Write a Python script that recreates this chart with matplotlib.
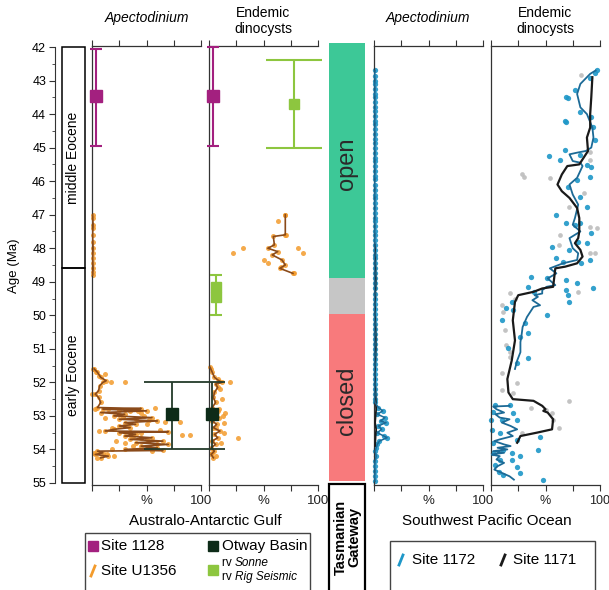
import matplotlib
matplotlib.use("Agg")
import matplotlib.pyplot as plt
from matplotlib.patches import Rectangle
from matplotlib.lines import Line2D

plt.rcParams['font.family'] = ['Liberation Sans', 'DejaVu Sans']

nan = float('nan')

# ---- Australo-Antarctic Gulf, Apectodinium (%), Site U1356 ----
aag_ap_line_age = [47.0, 47.3, 47.6, 48.0, 48.3, 48.6, 48.8, nan,
                   51.6, 51.7, 51.85, 51.95, 52.0, 52.1, 52.25, 52.35, 52.45, 52.6, 52.75,
                   52.78, 52.8, 52.85, 52.9, 52.95, 53.0, 53.05, 53.1, 53.15, 53.2, 53.25,
                   53.3, 53.35, 53.4, 53.45, 53.47, 53.5, 53.55, 53.6, 53.65, 53.7, 53.75,
                   53.8, 53.85, 53.9, 53.95, 54.0, 54.03, 54.05, 54.1, 54.15, 54.2, 54.25]
aag_ap_line_pct = [0.5, 1, 0.5, 1, 0.5, 1, 0.5, nan,
                   2, 5, 8, 13, 10, 7, 6, 3, 6, 8, 5,
                   45, 10, 50, 8, 30, 20, 55, 25, 60, 30, 40,
                   25, 35, 20, 12, 70, 25, 40, 30, 55, 35, 65,
                   40, 70, 45, 60, 30, 65, 5, 10, 3, 15, 8]
aag_ap_dot_age = [47.1, 47.4, 47.8, 48.15, 48.45, 48.7,
                  51.6, 51.7, 51.75, 51.8, 51.98, 52.35, 52.0, 52.75, 52.8, 52.82, 52.85,
                  52.9, 53.0, 53.05, 53.1, 53.17, 53.17, 53.25, 53.3, 53.35, 53.45, 53.5,
                  53.57, 53.57, 53.6, 53.7, 53.75, 53.8, 53.85, 54.0, 54.1, 54.15, 54.2, 54.25,
                  52.78, 52.86, 53.02, 53.12, 53.42, 53.66, 53.9, 54.05]
aag_ap_dot_pct = [1, 0.5, 1, 0.5, 1, 0.5,
                  1, 4, 12, 6, 30, 0, 17, 58, 3, 25, 35,
                  45, 48, 12, 40, 67, 81, 50, 33, 18, 6, 45,
                  83, 90, 38, 50, 22, 30, 60, 18, 2, 14, 20, 5,
                  15, 42, 28, 52, 62, 45, 38, 55]

# ---- Australo-Antarctic Gulf, endemic dinocysts (%), Site U1356 ----
aag_en_line_age = [47.0, 47.6, 47.65, 47.9, 48.0, 48.1, 48.2, 48.35, 48.5, 48.6, 48.75, nan,
                   51.55, 51.7, 51.85, 51.95, 52.0, 52.05, 52.15, 52.3, 52.45, 52.6, 52.75,
                   52.85, 52.95, 53.05, 53.15, 53.25, 53.35, 53.45, 53.55, 53.65, 53.75,
                   53.85, 53.95, 54.05, 54.15, 54.25]
aag_en_line_pct = [70, 70, 59, 60, 54, 63, 58, 67, 70, 65, 77, nan,
                   1, 3, 5, 9, 12, 6, 8, 5, 4, 6, 3,
                   8, 4, 9, 3, 7, 4, 10, 5, 8, 3,
                   6, 2, 5, 2, 4]
aag_en_dot_age = [47.0, 47.2, 47.6, 48.15, 48.0, 48.35, 48.45, 48.0, 48.15, 48.55, 48.75,
                  52.0, 52.9, 53.65, 52.5, 53.2, 53.5, 53.8, 54.2, 52.2, 53.0, 51.6, 51.9,
                  52.8, 53.35, 54.1]
aag_en_dot_pct = [70, 63, 71, 22, 31, 50, 54, 82, 86, 66, 78,
                  19, 15, 27, 12, 14, 14, 11, 6, 10, 13, 2, 8,
                  9, 6, 3]

# ---- single-age estimates with age ranges ----
s1128_ap = dict(pct=4, age=43.45, lo=42.05, hi=44.95)
s1128_en = dict(pct=3.5, age=43.45, lo=42.0, hi=44.95)
otway_ap = dict(pct=73, age=52.95, lo=52.0, hi=54.0)
otway_en = dict(pct=3, age=52.95, lo=52.0, hi=54.0)
sonne_en_a = dict(pct=78, age=43.7, lo=42.4, hi=45.0)
sonne_en_b_age = [49.15, 49.45]
sonne_en_b_pct = [6, 6]
sonne_en_b_range = (48.8, 50.0)

# ---- Southwest Pacific, Apectodinium (%), Site 1172 ----
sw_ap_1172_age = [42.7, 42.85, 43.0, 43.1, 43.25, 43.4, 43.5, 43.65, 43.8, 43.9, 44.05, 44.2,
                  44.3, 44.45, 44.6, 44.75, 44.85, 45.0, 45.15, 45.3, 45.4, 45.55, 45.7, 45.85,
                  45.95, 46.1, 46.25, 46.4, 46.5, 46.65, 46.8, 46.95, 47.1, 47.2, 47.35, 47.5,
                  47.6, 47.75, 47.9, 48.05, 48.2, 48.3, 48.45, 48.6, 48.75, 48.9, 49.05, 49.2,
                  49.35, 49.5, 49.65, 49.8, 49.95, 50.1, 50.25, 50.4, 50.55, 50.7, 50.85, 51.0,
                  51.15, 51.3, 51.45, 51.6, 51.75, 51.9, 52.05, 52.2, 52.35, 52.5, 52.6,
                  52.75, 52.85, 52.95, 53.05, 53.15, 53.2, 53.3, 53.4, 53.5, 53.6, 53.65, 53.75,
                  53.85, 53.95, 54.05, 54.2, 54.35, 54.5, 54.65, 54.8, 54.95]
sw_ap_1172_pct = [1, 0.5, 1, 0.5, 1, 0.5, 1, 0.5, 1, 0.5, 1, 0.5,
                  1, 0.5, 1, 0.5, 1, 0.5, 1, 0.5, 1, 0.5, 1, 0.5,
                  1, 0.5, 1, 0.5, 1, 0.5, 1, 0.5, 1, 0.5, 1, 0.5,
                  1, 0.5, 1, 0.5, 1, 0.5, 1, 0.5, 1, 0.5, 1, 0.5,
                  1, 0.5, 1, 0.5, 1, 0.5, 1, 0.5, 1, 0.5, 1, 0.5,
                  1, 0.5, 1, 0.5, 1, 0.5, 1, 0.5, 1, 0.5, 1,
                  4, 8, 3, 10, 6, 11, 4, 7, 3, 9, 12, 5,
                  3, 2, 1, 2, 1, 0.5, 1, 0.5, 1]
sw_ap_1171_age = [47.9, 48.5, 49.0, 49.6, 50.0, 50.6, 51.0, 51.6, 52.0, 52.5, 52.8, 53.0,
                  53.2, 53.4, 53.6, 53.9]
sw_ap_1171_pct = [1, 1.2, 1.5, 1, 1, 1.5, 1.5, 1, 1, 1.5, 2, 1.5, 1, 2, 1.5, 1]

# ---- Southwest Pacific, endemic dinocysts (%) ----
sw_en_1171_line_age = [42.9, 43.5, 44.0, 44.4, 44.7, 45.1, 45.5, 45.55, 45.8, 46.1, 46.3, 46.5,
                       46.8, 47.1, 47.5, 47.7, 47.85, 48.05, 48.25, 48.45, 48.55, 48.6, 49.15,
                       49.2, 49.3, 49.4, 49.6, 50.15, 50.75, 51.35, 51.9, 52.3, 52.5, 52.55,
                       52.7, 52.8, 52.85, 52.9, 53.1, 53.4, 53.5, 53.6, 53.8]
sw_en_1171_line_pct = [93, 92, 91, 91, 88, 89, 81, 70, 65, 61, 65, 72,
                       79, 81, 81, 80, 77, 82, 84, 79, 68, 59, 57,
                       47, 39, 25, 22, 20, 22, 19, 15, 16, 20, 39,
                       47, 50, 48, 52, 57, 56, 42, 27, 24]
sw_en_1172_line_age = [42.7, 42.8, 43.1, 43.4, 43.8, 44.0, 44.4, 44.7, 45.0, 45.1, 45.15, 45.2,
                       45.4, 45.45, 45.55, 45.9, 46.1, 46.4, 46.7, 47.1, 47.3, 47.5, 47.7,
                       48.0, 48.15, 48.35, 48.45, 48.6, 48.75, 48.9, 49.1, 49.15, 49.25, 49.35,
                       49.4, 49.45, 49.55, 49.7, 49.75, 50.05, 50.35, 50.6, 50.8, 51.1, 51.35,
                       51.6, nan,
                       52.7, 52.72, 52.8, 52.9, 52.95, 53.05, 53.1, 53.2, 53.3, 53.4, 53.5,
                       53.6, 53.7, 53.75, 53.85, 53.9, 53.95, 54.0, 54.05, 54.1, 54.15, 54.2,
                       54.3, 54.4, 54.5, 54.6, 54.7, 54.8, 54.9]
sw_en_1172_line_pct = [96, 91, 82, 79, 82, 88, 93, 94, 92, 87, 79, 72,
                       75, 82, 84, 79, 72, 75, 80, 77, 75, 82, 72,
                       75, 80, 79, 66, 54, 60, 52, 59, 51, 47, 47,
                       40, 43, 38, 45, 39, 33, 29, 28, 27, 27, 24,
                       22, nan,
                       17, 2, 5, 12, 4, 8, 17, 10, 18, 24, 15,
                       20, 8, 3, 12, 18, 6, 15, 2, 12, 0, 8,
                       5, 12, 6, 3, 10, 17, 21]
sw_en_1172_dot_age = [42.69, 42.78, 42.93, 43.28, 43.53, 43.93, 44.08, 44.38, 44.77, 44.23,
                      45.25, 45.37, 45.07, 45.22, 45.52, 45.57, 45.87, 45.97, 46.17, 46.46,
                      46.76, 47.01, 47.26, 47.31, 43.5, 44.2,
                      47.26, 47.56, 47.85, 47.80, 47.95, 48.05, 48.30, 48.40, 48.45, 48.35,
                      48.85, 48.90, 48.95, 49.05, 49.19, 49.15, 49.30, 49.25, 49.39, 49.59,
                      49.59, 50.14, 49.79, 49.84, 49.99, 50.24, 50.54, 50.64, 50.98, 51.28,
                      51.43, 52.67, 52.67, 52.87, 52.92, 53.12, 53.12, 53.12, 53.42, 53.52,
                      53.62, 53.82, 53.72, 54.02, 54.11, 54.11, 54.21, 54.31, 54.46, 54.02,
                      54.51, 54.66, 54.76, 54.91, 54.71, 54.31]
sw_en_1172_dot_pct = [97, 95, 91, 77, 71, 82, 92, 94, 95, 69,
                      53, 63, 68, 82, 88, 92, 91, 79, 71, 82,
                      88, 60, 69, 77, 69, 68,
                      82, 92, 88, 80, 56, 72, 60, 66, 83, 91,
                      37, 51, 69, 79, 94, 34, 39, 69, 71, 19,
                      72, 10, 14, 20, 51, 31, 34, 27, 16, 34,
                      24, 4, 17, 2, 20, 0, 10, 24, 1, 8,
                      45, 2, 24, 11, 2, 19, 27, 8, 4, 43,
                      24, 7, 11, 48, 27, 19]
sw_en_1171_dot_age = [42.83, 45.87, 45.92, 45.12, 45.37, 46.76, 47.41, 46.36, 45.8,
                      47.36, 48.15, 48.13, 47.9, 49.3, 49.69, 49.34, 50.44, 51.08, 51.73,
                      52.23, 52.33, 52.03, 52.57, 52.77, 53.12, 53.37, 52.92, 53.52, 51.23,
                      49.89, 47.6, 52.82, 49.5, 50.9]
sw_en_1171_dot_pct = [83, 30, 54, 91, 91, 72, 97, 85, 28,
                      91, 95, 91, 62, 80, 10, 17, 13, 17, 10,
                      10, 20, 24, 72, 37, 57, 62, 56, 28, 17,
                      11, 63, 50, 22, 14]

# ---- stratigraphy and gateway ----
epochs = ['middle Eocene', 'early Eocene']
epoch_bounds = [(42.0, 48.6), (48.6, 55.0)]
gateway_states = ['open', '', 'closed']
gateway_bounds = [(41.88, 48.9), (48.9, 49.95), (49.95, 54.95)]
gateway_colors = ['#3DC897', '#C6C6C6', '#F87A7C']

age_ticks = list(range(42, 56))
pct_ticks = [0, 25, 50, 75, 100]
pct_labels = ['', '', '%', '', '100']

# colours
C_PURPLE = '#A3207F'
C_OTWAY = '#0D2B18'
C_LGREEN = '#8DC63F'
C_ORANGE = '#F39B2C'
C_BROWN = '#8A4A1A'
C_BLUE = '#1E97C8'
C_BLUELINE = '#1C6A96'
C_GREY = '#BDBDBD'
C_BLACK = '#1A1A1A'
C_AX = '#333333'

W, H = 609, 590
fig = plt.figure(figsize=(W / 100, H / 100), dpi=100)


def fx(px):
    return px / W


def fy(py):
    return 1 - py / H


TOP, BOT = 46, 485
YLIM = (55.06, 41.97)


def make_panel(left, width):
    ax = fig.add_axes([fx(left), fy(BOT), width / W, (BOT - TOP) / H])
    ax.set_xlim(0, 100)
    ax.set_ylim(*YLIM)
    ax.patch.set_alpha(0)
    ax.spines['right'].set_visible(False)
    for s in ['left', 'top', 'bottom']:
        ax.spines[s].set_color(C_AX)
        ax.spines[s].set_linewidth(0.9)
    ax.set_yticks([])
    ax.set_xticks(pct_ticks)
    ax.set_xticklabels(pct_labels, fontsize=9.5, color='#222222')
    ax.tick_params(axis='x', top=True, bottom=True, direction='out', length=4,
                   width=0.8, color=C_AX, pad=3)
    return ax


# age axis with epoch boxes
ax_age = fig.add_axes([fx(54.5), fy(BOT), fx(35), (BOT - TOP) / H])
ax_age.set_ylim(*YLIM)
ax_age.set_xlim(0, 1)
for s in ['right', 'top', 'bottom']:
    ax_age.spines[s].set_visible(False)
ax_age.spines['left'].set_bounds(42, 55)
ax_age.spines['left'].set_color(C_AX)
ax_age.set_xticks([])
ax_age.set_yticks(age_ticks)
ax_age.set_yticks([a + 0.5 for a in age_ticks[:-1]], minor=True)
ax_age.tick_params(axis='y', which='major', length=4, labelsize=9, pad=2, color=C_AX)
ax_age.tick_params(axis='y', which='minor', length=2.5, color=C_AX)
ax_age.set_ylabel('Age (Ma)', fontsize=9.5, labelpad=9)
ax_age.patch.set_alpha(0)
for name, (a0, a1) in zip(epochs, epoch_bounds):
    ax_age.add_patch(Rectangle((0.2, a0), 0.68, a1 - a0, fill=False, ec='black', lw=1.1))
    ax_age.text(0.54, (a0 + a1) / 2, name, rotation=90, ha='center', va='center', fontsize=10)

# panel 1: AAG Apectodinium
ax1 = make_panel(92, 109)
ax1.plot(aag_ap_line_pct, aag_ap_line_age, color=C_BROWN, lw=1.2, zorder=3)
ax1.plot(aag_ap_line_pct + aag_ap_dot_pct, aag_ap_line_age + aag_ap_dot_age, 'o', ms=3.6,
         color=C_ORANGE, mec='none', alpha=0.85, zorder=2, clip_on=False)
ax1.errorbar(s1128_ap['pct'], s1128_ap['age'],
             yerr=[[s1128_ap['age'] - s1128_ap['lo']], [s1128_ap['hi'] - s1128_ap['age']]],
             fmt='s', ms=8, color=C_PURPLE, ecolor=C_PURPLE, elinewidth=1.5, capsize=4.5,
             capthick=1.5, clip_on=False, zorder=4)
ax1.errorbar(otway_ap['pct'], otway_ap['age'],
             yerr=[[otway_ap['age'] - otway_ap['lo']], [otway_ap['hi'] - otway_ap['age']]],
             fmt='s', ms=8, color=C_OTWAY, ecolor='#233a2a', elinewidth=1.3, capsize=20,
             capthick=1.3, clip_on=False, zorder=5)

# panel 2: AAG endemic dinocysts
ax2 = make_panel(209, 109)
ax2.plot(aag_en_line_pct, aag_en_line_age, color=C_BROWN, lw=1.2, zorder=3)
ax2.plot(aag_en_line_pct + aag_en_dot_pct, aag_en_line_age + aag_en_dot_age, 'o', ms=3.6,
         color=C_ORANGE, mec='none', alpha=0.85, zorder=2, clip_on=False)
ax2.errorbar(s1128_en['pct'], s1128_en['age'],
             yerr=[[s1128_en['age'] - s1128_en['lo']], [s1128_en['hi'] - s1128_en['age']]],
             fmt='s', ms=8, color=C_PURPLE, ecolor=C_PURPLE, elinewidth=1.5, capsize=4.5,
             capthick=1.5, clip_on=False, zorder=4)
ax2.errorbar(otway_en['pct'], otway_en['age'],
             yerr=[[otway_en['age'] - otway_en['lo']], [otway_en['hi'] - otway_en['age']]],
             fmt='s', ms=8, color=C_OTWAY, ecolor='#233a2a', elinewidth=1.3, capsize=9,
             capthick=1.3, clip_on=False, zorder=5)
ax2.errorbar(sonne_en_a['pct'], sonne_en_a['age'],
             yerr=[[sonne_en_a['age'] - sonne_en_a['lo']], [sonne_en_a['hi'] - sonne_en_a['age']]],
             fmt='s', ms=7.5, color=C_LGREEN, ecolor=C_LGREEN, elinewidth=1.5, capsize=20,
             capthick=1.5, clip_on=False, zorder=4)
mid_b = sum(sonne_en_b_age) / 2
ax2.errorbar(sonne_en_b_pct[0], mid_b,
             yerr=[[mid_b - sonne_en_b_range[0]], [sonne_en_b_range[1] - mid_b]],
             fmt='none', ecolor=C_LGREEN, elinewidth=1.5, capsize=4, capthick=1.5,
             clip_on=False, zorder=4)
ax2.plot(sonne_en_b_pct, sonne_en_b_age, 's', ms=7.5, color=C_LGREEN, clip_on=False, zorder=5)

# gateway bar
ax_g = fig.add_axes([fx(329), fy(BOT), fx(36), (BOT - TOP) / H])
ax_g.set_ylim(*YLIM)
ax_g.set_xlim(0, 1)
ax_g.axis('off')
for name, (a0, a1), c in zip(gateway_states, gateway_bounds, gateway_colors):
    ax_g.add_patch(Rectangle((0, a0), 1, a1 - a0, color=c, lw=0, clip_on=False))
    if name:
        ax_g.text(0.5, (a0 + a1) / 2 + 0.1, name, rotation=90, ha='center', va='center',
                  fontsize=17, color='#2a2a2a')

# panel 3: SW Pacific Apectodinium
ax3 = make_panel(374, 109)
ax3.plot(sw_ap_1171_pct, sw_ap_1171_age, color=C_BLACK, lw=1.3, zorder=3)
ax3.plot(sw_ap_1172_pct, sw_ap_1172_age, color=C_BLUELINE, lw=1.1, zorder=3)
ax3.plot(sw_ap_1172_pct, sw_ap_1172_age, 'o', ms=3.8, color=C_BLUE, mec='none',
         alpha=0.9, zorder=2, clip_on=False)

# panel 4: SW Pacific endemic dinocysts
ax4 = make_panel(491, 109)
ax4.set_xticklabels(pct_labels, fontsize=9)
ax4.plot(sw_en_1171_dot_pct, sw_en_1171_dot_age, 'o', ms=3.4, color=C_GREY, mec='none',
         alpha=0.9, zorder=1, clip_on=False)
ax4.plot(sw_en_1172_dot_pct, sw_en_1172_dot_age, 'o', ms=3.8, color=C_BLUE, mec='none',
         alpha=0.9, zorder=2, clip_on=False)
ax4.plot(sw_en_1172_line_pct, sw_en_1172_line_age, color=C_BLUELINE, lw=1.3, zorder=3)
ax4.plot(sw_en_1171_line_pct, sw_en_1171_line_age, color=C_BLACK, lw=1.6, zorder=4)

# titles
for xc, txt in [(147, 'Apectodinium'), (428, 'Apectodinium')]:
    fig.text(fx(xc), fy(18), txt, ha='center', va='center', fontsize=10, style='italic')
for xc in [263, 545]:
    fig.text(fx(xc), fy(21), 'Endemic\ndinocysts', ha='center', va='center', fontsize=10,
             linespacing=1.25)

fig.text(fx(205), fy(521), 'Australo-Antarctic Gulf', ha='center', va='center', fontsize=11)
fig.text(fx(487), fy(521), 'Southwest Pacific Ocean', ha='center', va='center', fontsize=11)

# Tasmanian Gateway box
fig.patches.append(Rectangle((fx(329), fy(600)), fx(36), (600 - 484) / H, fill=False,
                             ec='black', lw=1.6, transform=fig.transFigure, figure=fig))
fig.text(fx(347.5), fy(537), 'Tasmanian\nGateway', rotation=90, ha='center', va='center',
         fontsize=10.5, fontweight='bold', linespacing=0.95)

# legend boxes
fig.patches.append(Rectangle((fx(85), fy(600)), fx(225), (600 - 533) / H, fill=False,
                             ec='#444444', lw=1.0, transform=fig.transFigure, figure=fig))
fig.patches.append(Rectangle((fx(390), fy(600)), fx(205), (600 - 541) / H, fill=False,
                             ec='#444444', lw=1.0, transform=fig.transFigure, figure=fig))


def leg_square(x, y, c):
    fig.patches.append(Rectangle((fx(x - 5), fy(y + 5)), 10 / W, 10 / H, color=c,
                                 transform=fig.transFigure, figure=fig))


def leg_slash(x, y, c, lw=2.0):
    fig.lines.append(Line2D([fx(x - 2), fx(x + 2)], [fy(y + 5), fy(y - 5)], color=c, lw=lw,
                            transform=fig.transFigure, figure=fig))


leg_square(93, 546, C_PURPLE)
fig.text(fx(101), fy(546), 'Site 1128', va='center', fontsize=11)
leg_square(213, 546, C_OTWAY)
fig.text(fx(222), fy(546), 'Otway Basin', va='center', fontsize=11)
leg_slash(93, 571, C_ORANGE)
fig.text(fx(101), fy(571), 'Site U1356', va='center', fontsize=11)
leg_square(213, 570, C_LGREEN)
fig.text(fx(222), fy(563), 'rv ', va='center', fontsize=8.5)
fig.text(fx(235), fy(563), 'Sonne', va='center', fontsize=8.5, style='italic')
fig.text(fx(222), fy(577), 'rv ', va='center', fontsize=8.5)
fig.text(fx(235), fy(577), 'Rig Seismic', va='center', fontsize=8.5, style='italic')

leg_slash(401, 560, C_BLUE)
fig.text(fx(412), fy(560), 'Site 1172', va='center', fontsize=11)
leg_slash(503, 560, C_BLACK)
fig.text(fx(513), fy(560), 'Site 1171', va='center', fontsize=11)

fig.savefig('out.png', dpi=100)
